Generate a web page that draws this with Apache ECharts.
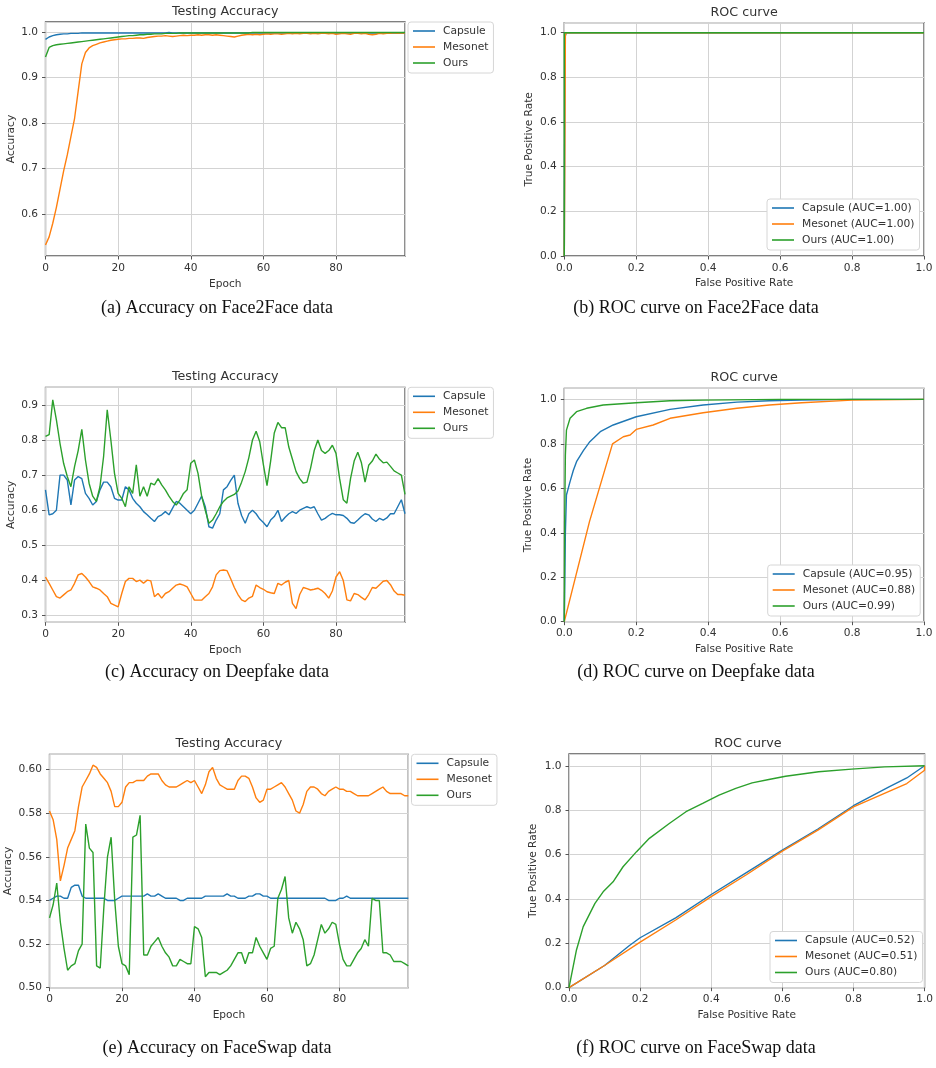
<!DOCTYPE html>
<html>
<head>
<meta charset="utf-8">
<title>Testing Accuracy / ROC curve</title>
<script src="https://cdn.jsdelivr.net/npm/echarts@6/dist/echarts.min.js"></script>
<style>
  html, body { margin: 0; padding: 0; background: #fff; }
  #main { width: 936px; height: 1068px; }
</style>
</head>
<body>
<div id="main"></div>
<script>
// ---- (a) Face2Face accuracy, epochs 0..99
var f2fCapsule = [
  0.984, 0.989, 0.992, 0.994, 0.995, 0.996, 0.996, 0.997, 0.997, 0.997,
  0.998, 0.998, 0.998, 0.998, 0.998, 0.998, 0.998, 0.998, 0.998, 0.998,
  0.998, 0.998, 0.998, 0.998, 0.998, 0.998, 0.998, 0.998, 0.998, 0.998,
  0.998, 0.998, 0.998, 0.998, 0.999, 0.998, 0.998, 0.998, 0.998, 0.998,
  0.998, 0.998, 0.998, 0.998, 0.998, 0.998, 0.998, 0.998, 0.998, 0.998,
  0.998, 0.998, 0.998, 0.998, 0.998, 0.998, 0.998, 0.998, 0.998, 0.998,
  0.998, 0.998, 0.998, 0.998, 0.998, 0.998, 0.998, 0.998, 0.998, 0.998,
  0.998, 0.998, 0.998, 0.998, 0.998, 0.998, 0.998, 0.998, 0.998, 0.998,
  0.998, 0.998, 0.998, 0.998, 0.998, 0.998, 0.998, 0.998, 0.998, 0.998,
  0.998, 0.998, 0.998, 0.998, 0.998, 0.998, 0.998, 0.998, 0.998, 0.998
];
var f2fMesonet = [
  0.532, 0.550, 0.580, 0.615, 0.655, 0.695, 0.730, 0.770, 0.810, 0.870,
  0.930, 0.955, 0.965, 0.970, 0.973, 0.976, 0.978, 0.980, 0.982, 0.983,
  0.984, 0.985, 0.985, 0.986, 0.986, 0.987, 0.987, 0.986, 0.988, 0.989,
  0.990, 0.991, 0.991, 0.992, 0.991, 0.990, 0.991, 0.992, 0.993, 0.992,
  0.993, 0.993, 0.994, 0.993, 0.994, 0.994, 0.993, 0.994, 0.993, 0.992,
  0.991, 0.990, 0.989, 0.991, 0.993, 0.994, 0.995, 0.994, 0.995, 0.994,
  0.995, 0.996, 0.995, 0.996, 0.996, 0.995, 0.996, 0.997, 0.996, 0.997,
  0.996, 0.997, 0.997, 0.996, 0.997, 0.996, 0.997, 0.997, 0.996, 0.997,
  0.995, 0.996, 0.997, 0.996, 0.995, 0.997, 0.997, 0.996, 0.997, 0.995,
  0.994, 0.995, 0.997, 0.996, 0.997, 0.997, 0.998, 0.997, 0.998, 0.998
];
var f2fOurs = [
  0.945, 0.966, 0.970, 0.972, 0.973, 0.974, 0.975, 0.976, 0.977, 0.978,
  0.979, 0.980, 0.981, 0.982, 0.983, 0.984, 0.985, 0.986, 0.987, 0.988,
  0.989, 0.990, 0.991, 0.992, 0.992, 0.993, 0.994, 0.994, 0.995, 0.995,
  0.996, 0.996, 0.996, 0.997, 0.997, 0.997, 0.997, 0.998, 0.998, 0.998,
  0.998, 0.998, 0.998, 0.998, 0.998, 0.998, 0.998, 0.998, 0.998, 0.998,
  0.998, 0.998, 0.998, 0.998, 0.998, 0.998, 0.998, 0.999, 0.999, 0.999,
  0.999, 0.999, 0.999, 0.999, 0.999, 0.999, 0.999, 0.999, 0.999, 0.999,
  0.999, 0.999, 0.999, 0.999, 0.999, 0.999, 0.999, 0.999, 0.999, 0.999,
  0.999, 0.999, 0.999, 0.999, 0.999, 0.999, 0.999, 0.999, 0.999, 0.999,
  0.999, 0.999, 0.999, 0.999, 0.999, 0.999, 0.999, 0.999, 0.999, 0.999
];

// ---- (b) Face2Face ROC
var f2fRocCapsuleFpr = [0, 0.002, 0.005, 1.0];
var f2fRocCapsuleTpr = [0, 0.980, 1.0, 1.0];
var f2fRocMesonetFpr = [0, 0.003, 0.006, 1.0];
var f2fRocMesonetTpr = [0, 0.990, 1.0, 1.0];
var f2fRocOursFpr = [0, 0, 1.0];
var f2fRocOursTpr = [0, 1.0, 1.0];

// ---- (c) Deepfake accuracy
var dfCapsule = [
  0.658, 0.587, 0.590, 0.600, 0.700, 0.700, 0.686, 0.615, 0.686, 0.696,
  0.690, 0.648, 0.634, 0.615, 0.625, 0.658, 0.680, 0.680, 0.667, 0.634,
  0.629, 0.629, 0.667, 0.658, 0.634, 0.620, 0.610, 0.596, 0.587, 0.577,
  0.568, 0.582, 0.587, 0.596, 0.587, 0.606, 0.625, 0.620, 0.610, 0.600,
  0.590, 0.600, 0.620, 0.640, 0.610, 0.553, 0.549, 0.572, 0.590, 0.658,
  0.667, 0.685, 0.700, 0.620, 0.585, 0.563, 0.590, 0.600, 0.590, 0.575,
  0.565, 0.553, 0.572, 0.582, 0.600, 0.568, 0.580, 0.590, 0.596, 0.591,
  0.600, 0.605, 0.610, 0.606, 0.610, 0.590, 0.572, 0.577, 0.585, 0.591,
  0.587, 0.587, 0.585, 0.577, 0.565, 0.563, 0.572, 0.582, 0.590, 0.587,
  0.575, 0.568, 0.577, 0.572, 0.578, 0.590, 0.590, 0.610, 0.630, 0.590
];
var dfMesonet = [
  0.410, 0.392, 0.373, 0.354, 0.350, 0.359, 0.368, 0.373, 0.392, 0.416,
  0.420, 0.410, 0.397, 0.382, 0.378, 0.373, 0.363, 0.354, 0.335, 0.330,
  0.325, 0.363, 0.397, 0.406, 0.406, 0.397, 0.401, 0.392, 0.401, 0.399,
  0.354, 0.363, 0.350, 0.363, 0.368, 0.378, 0.387, 0.390, 0.387, 0.382,
  0.363, 0.344, 0.344, 0.344, 0.354, 0.363, 0.382, 0.416, 0.428, 0.430,
  0.428, 0.405, 0.380, 0.360, 0.345, 0.340, 0.350, 0.355, 0.387, 0.380,
  0.375, 0.368, 0.365, 0.363, 0.392, 0.387, 0.395, 0.400, 0.335, 0.320,
  0.360, 0.380, 0.377, 0.373, 0.375, 0.378, 0.372, 0.363, 0.350, 0.370,
  0.410, 0.425, 0.400, 0.345, 0.342, 0.363, 0.360, 0.352, 0.345, 0.360,
  0.380, 0.378, 0.388, 0.398, 0.400, 0.388, 0.370, 0.360, 0.360, 0.358
];
var dfOurs = [
  0.810, 0.815, 0.914, 0.857, 0.790, 0.733, 0.696, 0.667, 0.724, 0.770,
  0.830, 0.743, 0.677, 0.640, 0.625, 0.667, 0.753, 0.886, 0.800, 0.705,
  0.648, 0.634, 0.610, 0.667, 0.648, 0.729, 0.640, 0.667, 0.640, 0.677,
  0.672, 0.690, 0.672, 0.658, 0.640, 0.625, 0.615, 0.629, 0.648, 0.658,
  0.734, 0.743, 0.705, 0.640, 0.600, 0.563, 0.572, 0.590, 0.610, 0.625,
  0.635, 0.640, 0.645, 0.655, 0.680, 0.710, 0.750, 0.800, 0.825, 0.795,
  0.730, 0.670, 0.740, 0.820, 0.850, 0.835, 0.835, 0.780, 0.745, 0.710,
  0.690, 0.677, 0.680, 0.720, 0.770, 0.800, 0.770, 0.762, 0.770, 0.785,
  0.762, 0.690, 0.630, 0.620, 0.690, 0.740, 0.765, 0.735, 0.680, 0.728,
  0.740, 0.760, 0.745, 0.735, 0.737, 0.725, 0.712, 0.706, 0.700, 0.645
];

// ---- (d) Deepfake ROC
var dfRocCapsuleFpr = [0, 0.003, 0.006, 0.016, 0.025, 0.034, 0.053, 0.071, 0.100, 0.136, 0.200, 0.294, 0.386, 0.480, 0.570, 0.660, 0.800, 1.0];
var dfRocCapsuleTpr = [0, 0.400, 0.570, 0.630, 0.680, 0.720, 0.770, 0.810, 0.855, 0.885, 0.922, 0.955, 0.975, 0.988, 0.994, 0.997, 1.0, 1.0];
var dfRocMesonetFpr = [0, 0.070, 0.134, 0.164, 0.183, 0.200, 0.247, 0.294, 0.386, 0.480, 0.570, 0.660, 0.800, 1.0];
var dfRocMesonetTpr = [0, 0.450, 0.800, 0.832, 0.840, 0.865, 0.885, 0.915, 0.940, 0.960, 0.975, 0.985, 0.997, 1.0];
var dfRocOursFpr = [0, 0.001, 0.003, 0.006, 0.016, 0.034, 0.062, 0.108, 0.200, 0.294, 0.386, 0.600, 1.0];
var dfRocOursTpr = [0, 0.450, 0.750, 0.862, 0.915, 0.945, 0.960, 0.975, 0.985, 0.994, 0.997, 1.0, 1.0];

// ---- (e) FaceSwap accuracy
var fsCapsule = [
  0.540, 0.541, 0.542, 0.542, 0.541, 0.541, 0.546, 0.547, 0.547, 0.542,
  0.541, 0.541, 0.541, 0.541, 0.541, 0.541, 0.540, 0.540, 0.540, 0.541,
  0.542, 0.542, 0.542, 0.542, 0.542, 0.542, 0.542, 0.543, 0.542, 0.542,
  0.543, 0.542, 0.541, 0.541, 0.541, 0.541, 0.540, 0.540, 0.541, 0.541,
  0.541, 0.541, 0.541, 0.542, 0.542, 0.542, 0.542, 0.542, 0.542, 0.543,
  0.542, 0.542, 0.541, 0.541, 0.541, 0.542, 0.542, 0.543, 0.543, 0.542,
  0.542, 0.541, 0.541, 0.541, 0.541, 0.541, 0.541, 0.541, 0.541, 0.541,
  0.541, 0.541, 0.541, 0.541, 0.541, 0.541, 0.541, 0.540, 0.540, 0.540,
  0.541, 0.541, 0.542, 0.541, 0.541, 0.541, 0.541, 0.541, 0.541, 0.541,
  0.541, 0.541, 0.541, 0.541, 0.541, 0.541, 0.541, 0.541, 0.541, 0.541
];
var fsMesonet = [
  0.581, 0.577, 0.568, 0.549, 0.556, 0.564, 0.568, 0.572, 0.583, 0.592,
  0.595, 0.598, 0.602, 0.601, 0.598, 0.596, 0.594, 0.590, 0.583, 0.583,
  0.585, 0.592, 0.594, 0.594, 0.595, 0.595, 0.595, 0.597, 0.598, 0.598,
  0.598, 0.595, 0.593, 0.592, 0.592, 0.592, 0.593, 0.594, 0.595, 0.594,
  0.595, 0.592, 0.589, 0.593, 0.599, 0.601, 0.596, 0.593, 0.592, 0.591,
  0.591, 0.591, 0.595, 0.597, 0.597, 0.596, 0.592, 0.587, 0.585, 0.586,
  0.591, 0.591, 0.592, 0.593, 0.594, 0.592, 0.589, 0.586, 0.581, 0.580,
  0.584, 0.590, 0.592, 0.592, 0.591, 0.589, 0.588, 0.590, 0.591, 0.592,
  0.591, 0.591, 0.590, 0.590, 0.589, 0.588, 0.588, 0.588, 0.588, 0.589,
  0.590, 0.591, 0.592, 0.590, 0.589, 0.589, 0.589, 0.589, 0.588, 0.588
];
var fsOurs = [
  0.532, 0.538, 0.548, 0.530, 0.518, 0.508, 0.510, 0.511, 0.517, 0.520,
  0.575, 0.564, 0.562, 0.510, 0.509, 0.537, 0.560, 0.569, 0.540, 0.519,
  0.511, 0.510, 0.506, 0.569, 0.570, 0.579, 0.515, 0.515, 0.519, 0.521,
  0.523, 0.519, 0.516, 0.514, 0.510, 0.510, 0.513, 0.512, 0.511, 0.511,
  0.528, 0.527, 0.523, 0.505, 0.507, 0.507, 0.507, 0.506, 0.507, 0.508,
  0.510, 0.513, 0.516, 0.516, 0.511, 0.516, 0.516, 0.523, 0.519, 0.516,
  0.513, 0.518, 0.519, 0.541, 0.545, 0.551, 0.532, 0.525, 0.530, 0.527,
  0.522, 0.510, 0.511, 0.515, 0.522, 0.529, 0.525, 0.527, 0.530, 0.529,
  0.520, 0.513, 0.510, 0.510, 0.513, 0.516, 0.518, 0.522, 0.519, 0.541,
  0.540, 0.540, 0.516, 0.516, 0.515, 0.512, 0.512, 0.512, 0.511, 0.510
];

// ---- (f) FaceSwap ROC
var fsRocCapsuleFpr = [0, 0.10, 0.17, 0.20, 0.30, 0.40, 0.50, 0.60, 0.70, 0.80, 0.90, 0.95, 1.0];
var fsRocCapsuleTpr = [0, 0.10, 0.19, 0.225, 0.315, 0.42, 0.52, 0.62, 0.715, 0.82, 0.905, 0.945, 1.0];
var fsRocMesonetFpr = [0, 0.10, 0.20, 0.30, 0.40, 0.50, 0.60, 0.70, 0.80, 0.90, 0.95, 1.0, 1.0];
var fsRocMesonetTpr = [0, 0.10, 0.205, 0.305, 0.41, 0.51, 0.615, 0.71, 0.815, 0.885, 0.92, 0.98, 1.0];
var fsRocOursFpr = [0, 0.021, 0.040, 0.073, 0.096, 0.124, 0.152, 0.190, 0.226, 0.282, 0.329, 0.376, 0.422, 0.469, 0.515, 0.562, 0.609, 0.702, 0.795, 0.888, 1.0];
var fsRocOursTpr = [0, 0.170, 0.275, 0.380, 0.432, 0.477, 0.545, 0.613, 0.673, 0.740, 0.793, 0.830, 0.868, 0.898, 0.923, 0.938, 0.953, 0.973, 0.985, 0.995, 1.0];

var methods = ['Capsule', 'Mesonet', 'Ours'];
var aucB = ['1.00', '1.00', '1.00'];
var aucD = ['0.95', '0.88', '0.99'];
var aucF = ['0.52', '0.51', '0.80'];
var captions = [
  '(a) Accuracy on Face2Face data', '(b) ROC curve on Face2Face data',
  '(c) Accuracy on Deepfake data', '(d) ROC curve on Deepfake data',
  '(e) Accuracy on FaceSwap data', '(f) ROC curve on FaceSwap data'
];

var colors = ['#1f77b4', '#ff7f0e', '#2ca02c'];
var FONT = 'DejaVu Sans';
var TXT = '#333';

// plot boxes in px: left, top, right, bottom
var boxes = [
  [45.5, 22, 405, 256],
  [564.3, 22.7, 924, 256],
  [45.5, 387.3, 405, 622.3],
  [564.3, 388.3, 924, 621.7],
  [49.5, 754.3, 408.3, 987.7],
  [569, 754, 926.7, 987.7]
];

function accPairs(vals) { return vals.map(function (v, i) { return [i, v]; }); }
function rocPairs(fpr, tpr) { return fpr.map(function (x, i) { return [x, tpr[i]]; }); }

var grids = boxes.map(function (b) {
  return {
    left: b[0], top: b[1], width: b[2] - b[0], height: b[3] - b[1],
    show: true, borderColor: '#555', borderWidth: 1.3, backgroundColor: '#fff'
  };
});

function baseAxis(gi, extra) {
  var ax = {
    type: 'value', gridIndex: gi,
    nameLocation: 'middle',
    nameTextStyle: { fontFamily: FONT, fontSize: 10.6, color: TXT },
    axisLine: { show: false },
    axisTick: { show: true, length: 3.5, lineStyle: { color: '#555', width: 1 } },
    axisLabel: { fontFamily: FONT, fontSize: 10.6, color: TXT, showMaxLabel: false },
    splitLine: { show: true, lineStyle: { color: '#d3d3d3', width: 1 } }
  };
  for (var k in extra) {
    if (typeof extra[k] === 'object' && ax[k]) {
      for (var j in extra[k]) ax[k][j] = extra[k][j];
    } else ax[k] = extra[k];
  }
  return ax;
}

var fmt1 = function (v) { return v.toFixed(1); };
var fmt2 = function (v) { return v.toFixed(2); };

var xAxes = [
  baseAxis(0, { min: 0, max: 99, interval: 20, name: 'Epoch', nameGap: 22.5, axisLabel: { margin: 6.5 } }),
  baseAxis(1, { min: 0, max: 1, interval: 0.2, name: 'False Positive Rate', nameGap: 22, axisLabel: { margin: 6.5, formatter: fmt1, showMaxLabel: true } }),
  baseAxis(2, { min: 0, max: 99, interval: 20, name: 'Epoch', nameGap: 22.5, axisLabel: { margin: 6.5 } }),
  baseAxis(3, { min: 0, max: 1, interval: 0.2, name: 'False Positive Rate', nameGap: 22, axisLabel: { margin: 6.5, formatter: fmt1, showMaxLabel: true } }),
  baseAxis(4, { min: 0, max: 99, interval: 20, name: 'Epoch', nameGap: 22.5, axisLabel: { margin: 6.5 } }),
  baseAxis(5, { min: 0, max: 1, interval: 0.2, name: 'False Positive Rate', nameGap: 22, axisLabel: { margin: 6.5, formatter: fmt1, showMaxLabel: true } })
];
var yAxes = [
  baseAxis(0, { min: 0.508, max: 1.022, splitNumber: 5, name: 'Accuracy', nameGap: 29, axisLabel: { margin: 7.5, formatter: fmt1, showMinLabel: false } }),
  baseAxis(1, { min: 0, max: 1.045, interval: 0.2, name: 'True Positive Rate', nameGap: 29.5, axisLabel: { margin: 7.5, formatter: fmt1 } }),
  baseAxis(2, { min: 0.281, max: 0.95, splitNumber: 6, name: 'Accuracy', nameGap: 29, axisLabel: { margin: 7.5, formatter: fmt1, showMinLabel: false } }),
  baseAxis(3, { min: 0, max: 1.05, interval: 0.2, name: 'True Positive Rate', nameGap: 30.5, axisLabel: { margin: 7.5, formatter: fmt1 } }),
  baseAxis(4, { min: 0.5, max: 0.607, interval: 0.02, name: 'Accuracy', nameGap: 35.5, axisLabel: { margin: 7.5, formatter: fmt2 } }),
  baseAxis(5, { min: 0, max: 1.053, interval: 0.2, name: 'True Positive Rate', nameGap: 30.5, axisLabel: { margin: 7.5, formatter: fmt1 } })
];

function lineSeries(name, gi, ci, data) {
  return {
    type: 'line', name: name, xAxisIndex: gi, yAxisIndex: gi,
    data: data, showSymbol: false, symbol: 'none', smooth: false,
    lineStyle: { color: colors[ci], width: 1.4 },
    itemStyle: { color: colors[ci] },
    emphasis: { disabled: true }
  };
}

var accSets = [[f2fCapsule, f2fMesonet, f2fOurs], [dfCapsule, dfMesonet, dfOurs], [fsCapsule, fsMesonet, fsOurs]];
var rocSets = [
  [[f2fRocCapsuleFpr, f2fRocCapsuleTpr], [f2fRocMesonetFpr, f2fRocMesonetTpr], [f2fRocOursFpr, f2fRocOursTpr]],
  [[dfRocCapsuleFpr, dfRocCapsuleTpr], [dfRocMesonetFpr, dfRocMesonetTpr], [dfRocOursFpr, dfRocOursTpr]],
  [[fsRocCapsuleFpr, fsRocCapsuleTpr], [fsRocMesonetFpr, fsRocMesonetTpr], [fsRocOursFpr, fsRocOursTpr]]
];
var aucs = [aucB, aucD, aucF];

var series = [];
var rocNames = [];
for (var row = 0; row < 3; row++) {
  for (var m = 0; m < 3; m++) {
    series.push(lineSeries(methods[m], row * 2, m, accPairs(accSets[row][m])));
  }
  var names = [];
  for (var m2 = 0; m2 < 3; m2++) {
    var nm = methods[m2] + ' (AUC=' + aucs[row][m2] + ')';
    names.push(nm);
    series.push(lineSeries(nm, row * 2 + 1, m2, rocPairs(rocSets[row][m2][0], rocSets[row][m2][1])));
  }
  rocNames.push(names);
}

function legendAt(left, top, data) {
  return {
    orient: 'vertical', left: left, top: top, data: data,
    icon: 'rect', itemWidth: 22, itemHeight: 1.6, itemGap: 2,
    padding: [2, 5, 3, 5],
    borderColor: '#d6d6d6', borderWidth: 1, borderRadius: 3, backgroundColor: '#fff',
    selectedMode: false,
    textStyle: { fontFamily: FONT, fontSize: 10.7, color: TXT, lineHeight: 14, padding: [0, 0, 0, 3] }
  };
}

var legends = [
  legendAt(408, 22, methods),
  legendAt(767, 199, rocNames[0]),
  legendAt(408, 387.3, methods),
  legendAt(767.7, 565, rocNames[1]),
  legendAt(411.5, 754.3, methods),
  legendAt(770, 931.5, rocNames[2])
];

var plotTitles = ['Testing Accuracy', 'ROC curve', 'Testing Accuracy', 'ROC curve', 'Testing Accuracy', 'ROC curve'];
var graphics = [];
boxes.forEach(function (b, i) {
  graphics.push({
    type: 'text', x: (b[0] + b[2]) / 2, y: b[1] - 10.5,
    style: { text: plotTitles[i], fill: TXT, fontFamily: FONT, fontSize: 12.7, align: 'center', verticalAlign: 'middle' }
  });
});
// subfigure captions
var capY = [308, 672, 1048];
captions.forEach(function (c, i) {
  graphics.push({
    type: 'text', x: i % 2 === 0 ? 217 : 696, y: capY[Math.floor(i / 2)],
    style: { text: c, fill: '#111', fontFamily: 'Liberation Serif', fontSize: 18, align: 'center', verticalAlign: 'middle' }
  });
});

var chart = echarts.init(document.getElementById('main'), null, { renderer: 'canvas' });
chart.setOption({
  animation: false,
  backgroundColor: '#fff',
  grid: grids,
  xAxis: xAxes,
  yAxis: yAxes,
  legend: legends,
  series: series,
  graphic: graphics
});
</script>
</body>
</html>
